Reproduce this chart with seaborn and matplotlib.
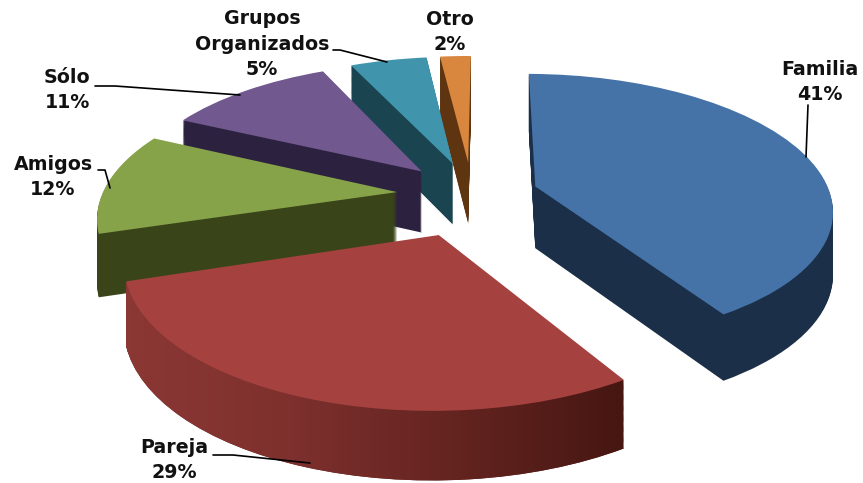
import matplotlib
matplotlib.use("Agg")
import matplotlib.pyplot as plt
from matplotlib.path import Path
from matplotlib.patches import PathPatch
from matplotlib.transforms import Transform
from matplotlib.colors import LinearSegmentedColormap
import seaborn as sns
import numpy as np

labels = ["Familia", "Pareja", "Amigos", "Sólo", "Grupos\nOrganizados", "Otro"]
values = [41, 29, 12, 11, 5, 2]
pct_labels = ["41%", "29%", "12%", "11%", "5%", "2%"]
explode = [0.225, 0.31, 0.255, 0.25, 0.25, 0.25]
top_colors = ["#4572a7", "#a5423f", "#87a34a", "#71588f", "#4095ad", "#d9873f"]
side_colors = ["#1b2f48", "#6a2624", "#3a4419", "#2d2140", "#1a4450", "#5e3510"]

sns.set_theme(style="white")
plt.rcParams["font.family"] = ["DejaVu Sans"]

CX, CY = 472, 194.5
SX, SY = 295, 133
P = 0.16
DEPTH = 62


class Tilt(Transform):
    # foreshortened pie plane, with a vertical drop for the extruded layers
    input_dims = output_dims = 2

    def __init__(self, drop=0):
        super().__init__()
        self.drop = drop

    def transform_non_affine(self, xy):
        xy = np.asarray(xy, dtype=float)
        w = 1 + P * xy[:, 1]
        return np.column_stack([CX + SX * xy[:, 0] / w,
                                CY - SY * xy[:, 1] / w + self.drop / np.sqrt(w)])


fig = plt.figure(figsize=(8.63, 4.83), dpi=100)
ax = fig.add_axes([0, 0, 1, 1])

# paint from the back slices to the front ones
order = {0: 40, 1: 50, 2: 30, 3: 20, 4: 10, 5: 5}
drops = np.linspace(DEPTH, 0, 63)
pareja_paths = []
for drop in drops:
    colors = top_colors if drop == 0 else side_colors
    wedges, _ = ax.pie(values, explode=explode, startangle=89.5, counterclock=False,
                       colors=colors, radius=1, wedgeprops={"linewidth": 0})
    tr = Tilt(drop)
    for i, w in enumerate(wedges):
        w.set_transform(tr + ax.transData)
        w.set_clip_on(False)
        w.set_zorder(order[i] + (2 if drop == 0 else 0))
    if drop != 0:
        pareja_paths.append(tr.transform_path(wedges[1].get_path()))

# shaded rim of the Pareja slice
cmap = LinearSegmentedColormap.from_list("rim", ["#8c3835", "#7d302d", "#62231f", "#431510"])
clip = PathPatch(Path.make_compound_path(*pareja_paths), transform=ax.transData, fc="none", ec="none")
ax.add_patch(clip)
grad = ax.imshow(np.linspace(0, 1, 256)[None, :], extent=(120, 640, 483, 270), cmap=cmap,
                 aspect="auto", zorder=51)
grad.set_clip_path(clip)

ax.set_aspect("auto")
ax.set_xlim(0, 863)
ax.set_ylim(483, 0)
ax.axis("off")

label_pos = [(820, 82), (174, 460), (53, 177), (67, 90), (262, 44), (450, 32)]
for name, pct, (x, y) in zip(labels, pct_labels, label_pos):
    ax.text(x, y, name + "\n" + pct, ha="center", va="center", fontsize=13.7, fontweight="bold",
            color="#111111", linespacing=1.41, zorder=100)

# leader lines
leaders = [[(808, 105), (806, 157)], [(213, 455), (233, 455), (310, 463)],
           [(98, 170), (105, 170), (110, 188)], [(95, 86), (115, 86), (240, 95)],
           [(333, 50), (340, 50), (387, 62)]]
for pts in leaders:
    xs, ys = zip(*pts)
    ax.plot(xs, ys, color="black", lw=1.2, zorder=90)

plt.savefig("out.png", dpi=100)
